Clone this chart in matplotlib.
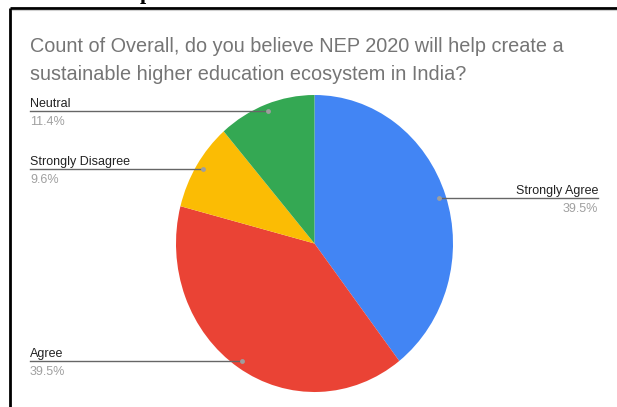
import numpy as np
import matplotlib
matplotlib.use("Agg")
import matplotlib.pyplot as plt

# survey answers (counts), order as drawn clockwise from 12 o'clock
answers = ["Strongly Agree", "Agree", "Strongly Disagree", "Neutral"]
counts = [66, 66, 16, 19]
colors = ["#4285F4", "#EA4335", "#FBBC04", "#34A853"]
title_lines = ["Count of Overall, do you believe NEP 2020 will help create a",
               "sustainable higher education ecosystem in India?"]

W, H = 617, 407
fig = plt.figure(figsize=(W / 100, H / 100), dpi=100)

# pie (slightly stretched vertically, like the screenshot)
pl, pr, pt, pb = 176, 453, 95, 392
ax = fig.add_axes([pl / W, 1 - pb / H, (pr - pl) / W, (pb - pt) / H])
ax.pie(counts, colors=colors, startangle=90, counterclock=False,
       wedgeprops=dict(linewidth=0))
ax.set_aspect("auto")
ax.set_xlim(-1, 1)
ax.set_ylim(-1, 1)
ax.axis("off")

# overlay in pixel coordinates
ov = fig.add_axes([0, 0, 1, 1], zorder=5)
ov.set_xlim(0, W)
ov.set_ylim(H, 0)
ov.axis("off")

# frame lines of the screenshot
ov.plot([10, 10], [8, H], color="black", lw=2, solid_capstyle="butt")
ov.plot([10, W], [8, 8], color="black", lw=2, solid_capstyle="butt")
ov.plot([12, W], [10, 10], color="#d0d0d0", lw=0.8)
ov.text(140, -0.5, "p", family="Liberation Serif", weight="bold",
        fontsize=16, va="baseline", color="black")

for i, line in enumerate(title_lines):
    ov.text(30, 52 + 28 * i, line, fontsize=14.3, color="#757575",
            family="Liberation Sans", va="baseline")

total = sum(counts)
fr = np.array(counts) / total
cum = np.cumsum(fr) - fr / 2
angles = np.deg2rad(90 - cum * 360)
for name, f, a in zip(answers, fr, angles):
    px, py = 0.95 * np.cos(a), 0.95 * np.sin(a)
    dx, dy = ov.transData.inverted().transform(ax.transData.transform((px, py)))
    if np.cos(a) > 0:
        x_end, ha = 598, "right"
    else:
        x_end, ha = 30, "left"
    ov.plot([dx, x_end], [dy, dy], color="#666666", lw=1)
    ov.plot(dx, dy, "o", color="#9e9e9e", ms=3.5, mec="none")
    ov.text(x_end, dy - 4, name, ha=ha, va="baseline", fontsize=9,
            color="#222222", family="Liberation Sans")
    ov.text(x_end, dy + 14, f"{f * 100:.1f}%", ha=ha, va="baseline",
            fontsize=9, color="#a0a0a0", family="Liberation Sans")

fig.savefig("out.png", dpi=100)
